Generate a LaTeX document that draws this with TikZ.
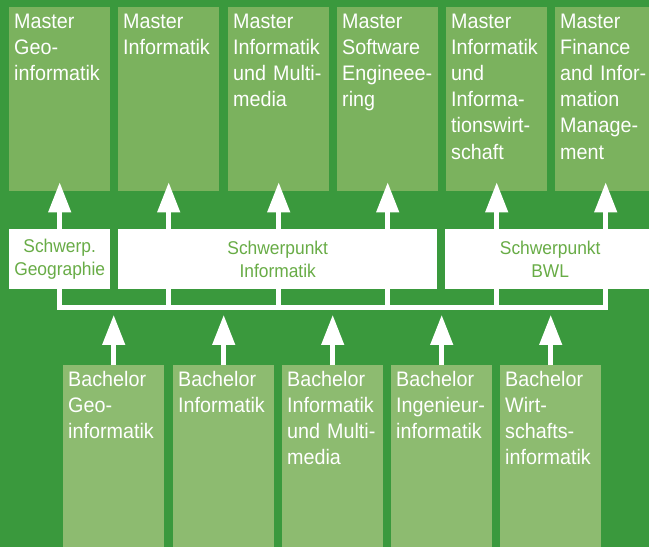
\documentclass[tikz,border=0pt]{standalone}
\usepackage{fontspec}
\setmainfont{Liberation Sans}[FakeStretch=0.94]
\usetikzlibrary{arrows.meta}
\definecolor{bggreen}{RGB}{58,153,61}
\definecolor{mastergreen}{RGB}{123,178,94}
\definecolor{bachgreen}{RGB}{141,187,112}
\definecolor{textgreen}{RGB}{104,172,70}
\begin{document}
\begin{tikzpicture}[x=1pt,y=1pt,
    master/.style={fill=mastergreen,text=white,anchor=north west,text width=91pt,
      align=left,inner xsep=5pt,inner ysep=3pt,text height=18pt,text depth=160pt,
      font=\fontsize{21pt}{26.2pt}\selectfont},
    bachelor/.style={master,fill=bachgreen,text depth=165pt},
    focus/.style={fill=white,text=textgreen,anchor=north west,minimum height=60pt,
      align=center,inner sep=0pt,font=\fontsize{18.5pt}{23pt}\selectfont},
    up/.style={white,line width=4.5pt,-{Triangle[width=22pt,length=30pt]}}]
  \fill[bggreen] (0,0) rectangle (649,547);
  \useasboundingbox (0,0) rectangle (649,547);
  % master programmes
  \node[master] (m1) at (9,540) {Master\\Geo-\\informatik};
  \node[master] (m2) at (118,540) {Master\\Informatik};
  \node[master] (m3) at (228,540) {Master\\Informatik\\und Multi-\\media};
  \node[master] (m4) at (337,540) {Master\\Software\\Engineee-\\ring};
  \node[master] (m5) at (446,540) {Master\\Informatik\\und\\Informa-\\tionswirt-\\schaft};
  \node[master] (m6) at (555,540) {Master\\Finance\\and Infor-\\mation\\Manage-\\ment};
  % bachelor programmes
  \node[bachelor] (b1) at (63,182) {Bachelor\\Geo-\\informatik};
  \node[bachelor] (b2) at (173,182) {Bachelor\\Informatik};
  \node[bachelor] (b3) at (282,182) {Bachelor\\Informatik\\und Multi-\\media};
  \node[bachelor] (b4) at (391,182) {Bachelor\\Ingenieur-\\informatik};
  \node[bachelor] (b5) at (500,182) {Bachelor\\Wirt-\\schafts-\\informatik};
  % arrows
  \coordinate (bus) at (0,239);
  \coordinate (tip) at (0,232);
  \foreach \m in {m1,m2,m3,m4,m5,m6}
    \draw[up] (\m.south |- bus) -- ([yshift=9pt]\m.south);
  \draw[white,line width=5pt,line cap=rect] (m1.south |- bus) -- (m6.south |- bus);
  \foreach \b in {b1,b2,b3,b4,b5}
    \draw[up] (\b.north) -- (\b.north |- tip);
  % focus areas
  \node[focus,minimum width=101pt] (s1) at (9,318) {Schwerp.\\Geographie};
  \node[focus,minimum width=319pt] (s2) at (118,318) {Schwerpunkt\\Informatik};
  \node[focus,minimum width=210pt] (s3) at (445,318) {Schwerpunkt\\BWL};
\end{tikzpicture}
\end{document}
